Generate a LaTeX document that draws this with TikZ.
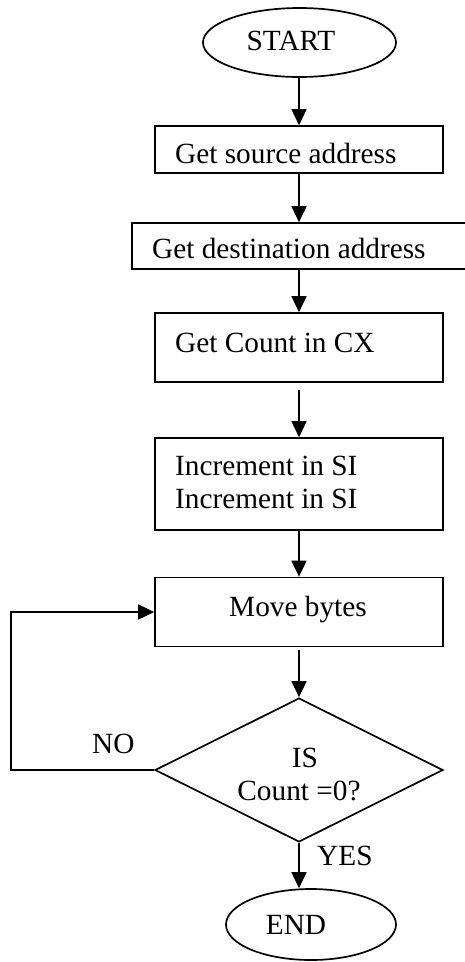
\documentclass[tikz,border=0pt]{standalone}
\usepackage{fontspec}
\setmainfont{Liberation Serif}
\usetikzlibrary{shapes.geometric,arrows.meta}
\begin{document}
\begin{tikzpicture}[x=1pt,y=-1pt,
  every node/.style={font=\fontsize{29.3}{33}\selectfont},
  arr/.style={line width=1.7pt,-{Triangle[length=16pt,width=15pt]}},
  boxn/.style={draw,line width=1.7pt,rectangle,inner sep=0pt},
  lbl/.style={inner sep=0pt}]
\useasboundingbox (0,0) rectangle (464,962);
% shapes
\node[boxn,ellipse,minimum width=193pt,minimum height=69pt] (start) at (299.5,42.5) {};
\node[boxn,minimum width=288pt,minimum height=47pt] (b1) at (299,149.5) {};
\node[boxn,minimum width=334pt,minimum height=46pt] (b2) at (299,246) {};
\node[boxn,minimum width=288pt,minimum height=69pt] (b3) at (299,347.5) {};
\node[boxn,minimum width=288pt,minimum height=92pt] (b4) at (299,484) {};
\node[boxn,minimum width=288pt,minimum height=69pt] (b5) at (299,612) {};
\node[boxn,diamond,minimum width=288pt,minimum height=144pt,aspect=2] (dia) at (299,770) {};
\node[boxn,ellipse,minimum width=170pt,minimum height=71pt] (endn) at (311,924.5) {};
% texts
\node[lbl,anchor=base] (tstart) at (291,50) {START};
\node[lbl,anchor=base west] (t1) at (175,163) {Get source address};
\node[lbl,anchor=base west] (t2) at (152,258) {Get destination address};
\node[lbl,anchor=base west] (t3) at (175,352) {Get Count in CX};
\node[lbl,anchor=base west] (t4a) at (175,475) {Increment in SI};
\node[lbl,anchor=base west] (t4b) at (175,508) {Increment in SI};
\node[lbl,anchor=base] (t5) at (298,616) {Move bytes};
\node[lbl,anchor=base] (tis) at (305,767) {IS};
\node[lbl,anchor=base] (tcnt) at (299,800) {Count =0?};
\node[lbl,anchor=base] (tend) at (296,934) {END};
\node[lbl,anchor=base west] (tno) at (92,753) {NO};
\node[lbl,anchor=base west] (tyes) at (317,865) {YES};
% connectors
\coordinate (lx) at (11,0);
\draw[arr] (start.south -| b1.north) -- (b1.north);
\draw[arr] (b1.south) -- (b2.north);
\draw[arr] (b2.south) -- (b3.north);
\draw[arr,shorten <=7pt] (b3.south) -- (b4.north);
\draw[arr] (b4.south) -- (b5.north);
\draw[arr,shorten <=3pt] (b5.south) -- (dia.north);
\draw[arr] (dia.south) -- (dia.south |- endn.north);
\draw[arr] (dia.west) -- (dia.west -| lx) -- (lx |- b5.west) -- (b5.west);
\end{tikzpicture}
\end{document}
